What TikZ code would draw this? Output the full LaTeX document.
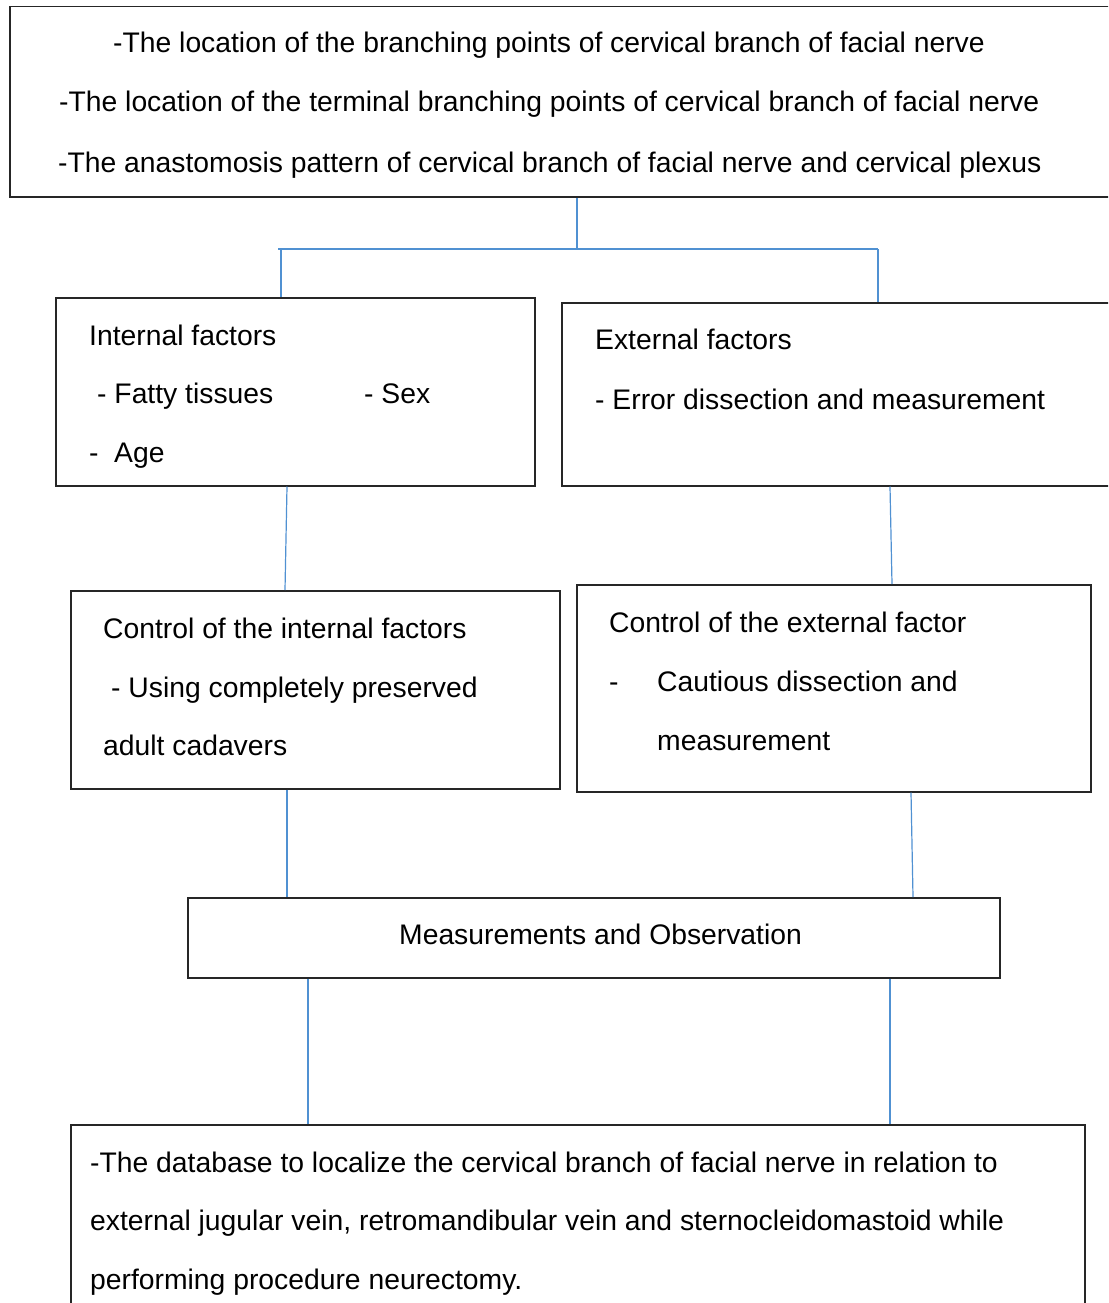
\documentclass[tikz,border=0pt]{standalone}
\usepackage{fontspec}
\setmainfont{Liberation Sans}
\definecolor{connblue}{RGB}{80,145,210}
\begin{document}
\begin{tikzpicture}[x=1pt,y=-1pt,
  box/.style={draw=black!85, line width=1.5pt, inner sep=0pt, anchor=north west},
  conn/.style={draw=connblue, line width=1.2pt},
  txt/.style={anchor=base west, inner sep=0pt, font=\fontsize{28.3}{34}\selectfont}]
\useasboundingbox (0,0) rectangle (1108,1303);
\clip (0,0) rectangle (1108,1303);
% boxes
\node[box, minimum width=1110pt, minimum height=190pt] (top) at (9,6) {};
\node[box, minimum width=479pt, minimum height=188pt] (intl) at (55,297) {};
\node[box, minimum width=560pt, minimum height=183pt] (extl) at (561,302) {};
\node[box, minimum width=489pt, minimum height=198pt] (cint) at (70,590) {};
\node[box, minimum width=514pt, minimum height=207pt] (cext) at (576,584) {};
\node[box, minimum width=812pt, minimum height=80pt] (meas) at (187,897) {};
\node[box, minimum width=1014pt, minimum height=200pt] (bot) at (70,1124) {};
% texts
\node[txt] (t1) at (113,53) {-The location of the branching points of cervical branch of facial nerve};
\node[txt] (t2) at (59,112) {-The location of the terminal branching points of cervical branch of facial nerve};
\node[txt] (t3) at (58,172) {-The anastomosis pattern of cervical branch of facial nerve and cervical plexus};
\node[txt] (i1) at (89,345) {Internal factors};
\node[txt] (i2) at (97,403) {- Fatty tissues};
\node[txt] (i3) at (364,403) {- Sex};
\node[txt] (i4) at (89,462) {-};
\node[txt] (i5) at (114,462) {Age};
\node[txt] (e1) at (595,349) {External factors};
\node[txt] (e2) at (595,409) {- Error dissection and measurement};
\node[txt] (c1) at (103,638) {Control of the internal factors};
\node[txt] (c2) at (111,697) {- Using completely preserved};
\node[txt] (c3) at (103,755) {adult cadavers};
\node[txt] (d1) at (609,632) {Control of the external factor};
\node[txt] (d2) at (609,691) {-};
\node[txt] (d3) at (657,691) {Cautious dissection and};
\node[txt] (d4) at (657,750) {measurement};
\node[txt] (m1) at (399,944) {Measurements and Observation};
\node[txt] (b1) at (90,1172) {-The database to localize the cervical branch of facial nerve in relation to};
\node[txt] (b2) at (90,1230) {external jugular vein, retromandibular vein and sternocleidomastoid while};
\node[txt] (b3) at (90,1289) {performing procedure neurectomy.};
% connectors
\coordinate (j) at (577,249);
\coordinate (jl) at (278,249);
\coordinate (jr) at (878,249);
\draw[conn] (577,0 |- top.south) -- (j);
\draw[conn] (jl) -- (jr);
\draw[conn] (281,0 |- jl) -- (281,0 |- intl.north);
\draw[conn] (jr) -- (878,0 |- extl.north);
\draw[conn] (287,0 |- intl.south) -- (285,0 |- cint.north);
\draw[conn] (890,0 |- extl.south) -- (892,0 |- cext.north);
\draw[conn] (287,0 |- cint.south) -- (287,0 |- meas.north);
\draw[conn] (911,0 |- cext.south) -- (913,0 |- meas.north);
\draw[conn] (308,0 |- meas.south) -- (308,0 |- bot.north);
\draw[conn] (890,0 |- meas.south) -- (890,0 |- bot.north);
\end{tikzpicture}
\end{document}
